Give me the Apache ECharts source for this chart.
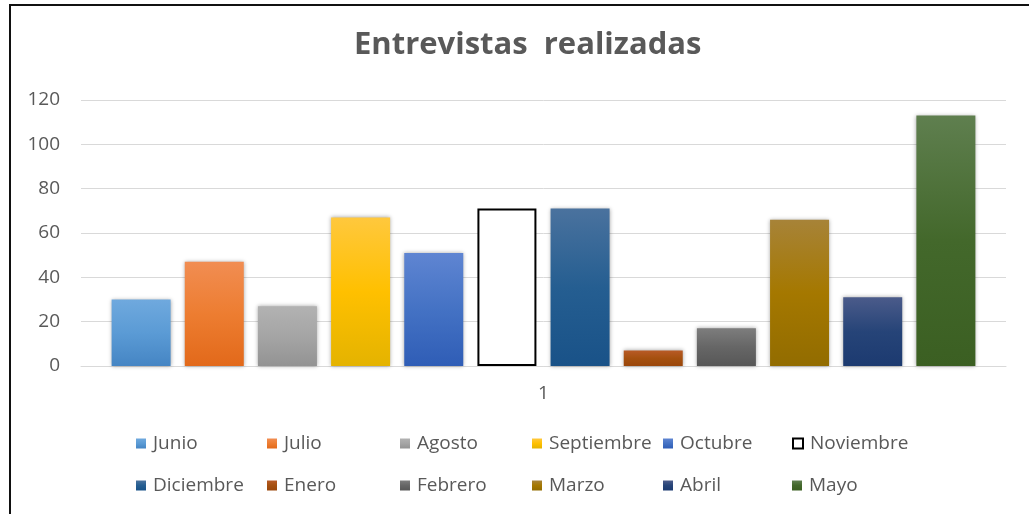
<!DOCTYPE html>
<html>
<head>
<meta charset="utf-8">
<script src="https://cdn.jsdelivr.net/npm/echarts@6/dist/echarts.min.js"></script>
<style>
  html, body { margin: 0; padding: 0; background: #fff; }
  #chart { width: 1029px; height: 514px; }
</style>
</head>
<body>
<div id="chart"></div>
<script>
// datos del gráfico
var categorias = ['1'];
var meses = ['Junio', 'Julio', 'Agosto', 'Septiembre', 'Octubre', 'Noviembre',
             'Diciembre', 'Enero', 'Febrero', 'Marzo', 'Abril', 'Mayo'];
var entrevistas = [30, 47, 27, 67, 51, 71, 71, 7, 17, 66, 31, 113];
var ticksY = [0, 20, 40, 60, 80, 100, 120];

// colores estilo Excel: [arriba, medio, abajo]
var colores = [
  ['#6fa9de', '#5b9bd5', '#4585c4'],
  ['#f18d52', '#ed7d31', '#e2691a'],
  ['#b2b2b2', '#a5a5a5', '#939393'],
  ['#ffc83d', '#ffc000', '#e4b300'],
  ['#5f85d2', '#4472c4', '#2f5db6'],
  null,
  ['#4a729e', '#255e91', '#195288'],
  ['#b85a26', '#a5500f', '#9a460b'],
  ['#7d7d7d', '#666666', '#575757'],
  ['#a78338', '#a57800', '#926c00'],
  ['#4b5b8a', '#264478', '#1c3a70'],
  ['#5f7f4f', '#43682b', '#3b5f22']
];

// posición de la leyenda (columnas / filas)
var legendX = [136, 267, 400, 532, 663, 792];
var legendY = [434, 476];

var chart = echarts.init(document.getElementById('chart'));

var series = meses.map(function (mes, i) {
  var c = colores[i];
  var itemStyle;
  if (c) {
    itemStyle = {
      color: new echarts.graphic.LinearGradient(0, 0, 0, 1, [
        { offset: 0, color: c[0] },
        { offset: 0.5, color: c[1] },
        { offset: 1, color: c[2] }
      ]),
      shadowBlur: 4,
      shadowColor: 'rgba(0,0,0,0.35)'
    };
  } else {
    itemStyle = { color: '#ffffff', borderColor: '#000000', borderWidth: 2 };
  }
  return {
    name: mes,
    type: 'bar',
    data: [entrevistas[i]],
    barWidth: 59,
    barGap: '24%',
    itemStyle: itemStyle,
    emphasis: { disabled: true }
  };
});

var legends = meses.map(function (mes, i) {
  return {
    data: [mes],
    left: legendX[i % 6],
    top: legendY[Math.floor(i / 6)],
    orient: 'horizontal',
    itemWidth: 10,
    itemHeight: 10,
    itemGap: 0,
    icon: 'rect',
    selectedMode: false,
    padding: 0,
    textStyle: { fontFamily: 'Open Sans', fontSize: 19, color: '#595959', padding: [0, 0, 0, 2] }
  };
});

var option = {
  animation: false,
  backgroundColor: '#ffffff',
  title: {
    text: 'Entrevistas  realizadas',
    left: 349,
    top: 25,
    textStyle: { fontFamily: 'Open Sans', fontWeight: 'bold', fontSize: 31, color: '#595959' }
  },
  legend: legends,
  grid: { left: 81, right: 23, top: 100, bottom: 148 },
  xAxis: {
    type: 'category',
    data: categorias,
    axisTick: { show: false },
    axisLine: { lineStyle: { color: '#d9d9d9', width: 1 } },
    axisLabel: { fontFamily: 'Open Sans', fontSize: 19, color: '#595959', margin: 18 }
  },
  yAxis: {
    type: 'value',
    min: ticksY[0],
    max: ticksY[ticksY.length - 1],
    interval: ticksY[1] - ticksY[0],
    axisLine: { show: false },
    axisTick: { show: false },
    splitLine: { lineStyle: { color: '#d9d9d9', width: 1 } },
    axisLabel: { fontFamily: 'Open Sans', fontSize: 19, color: '#595959', margin: 21 }
  },
  graphic: [{
    type: 'rect',
    shape: { x: 10, y: 5, width: 1200, height: 700 },
    style: { fill: null, stroke: '#111', lineWidth: 2 },
    silent: true
  }],
  series: series
};

chart.setOption(option);
</script>
</body>
</html>
